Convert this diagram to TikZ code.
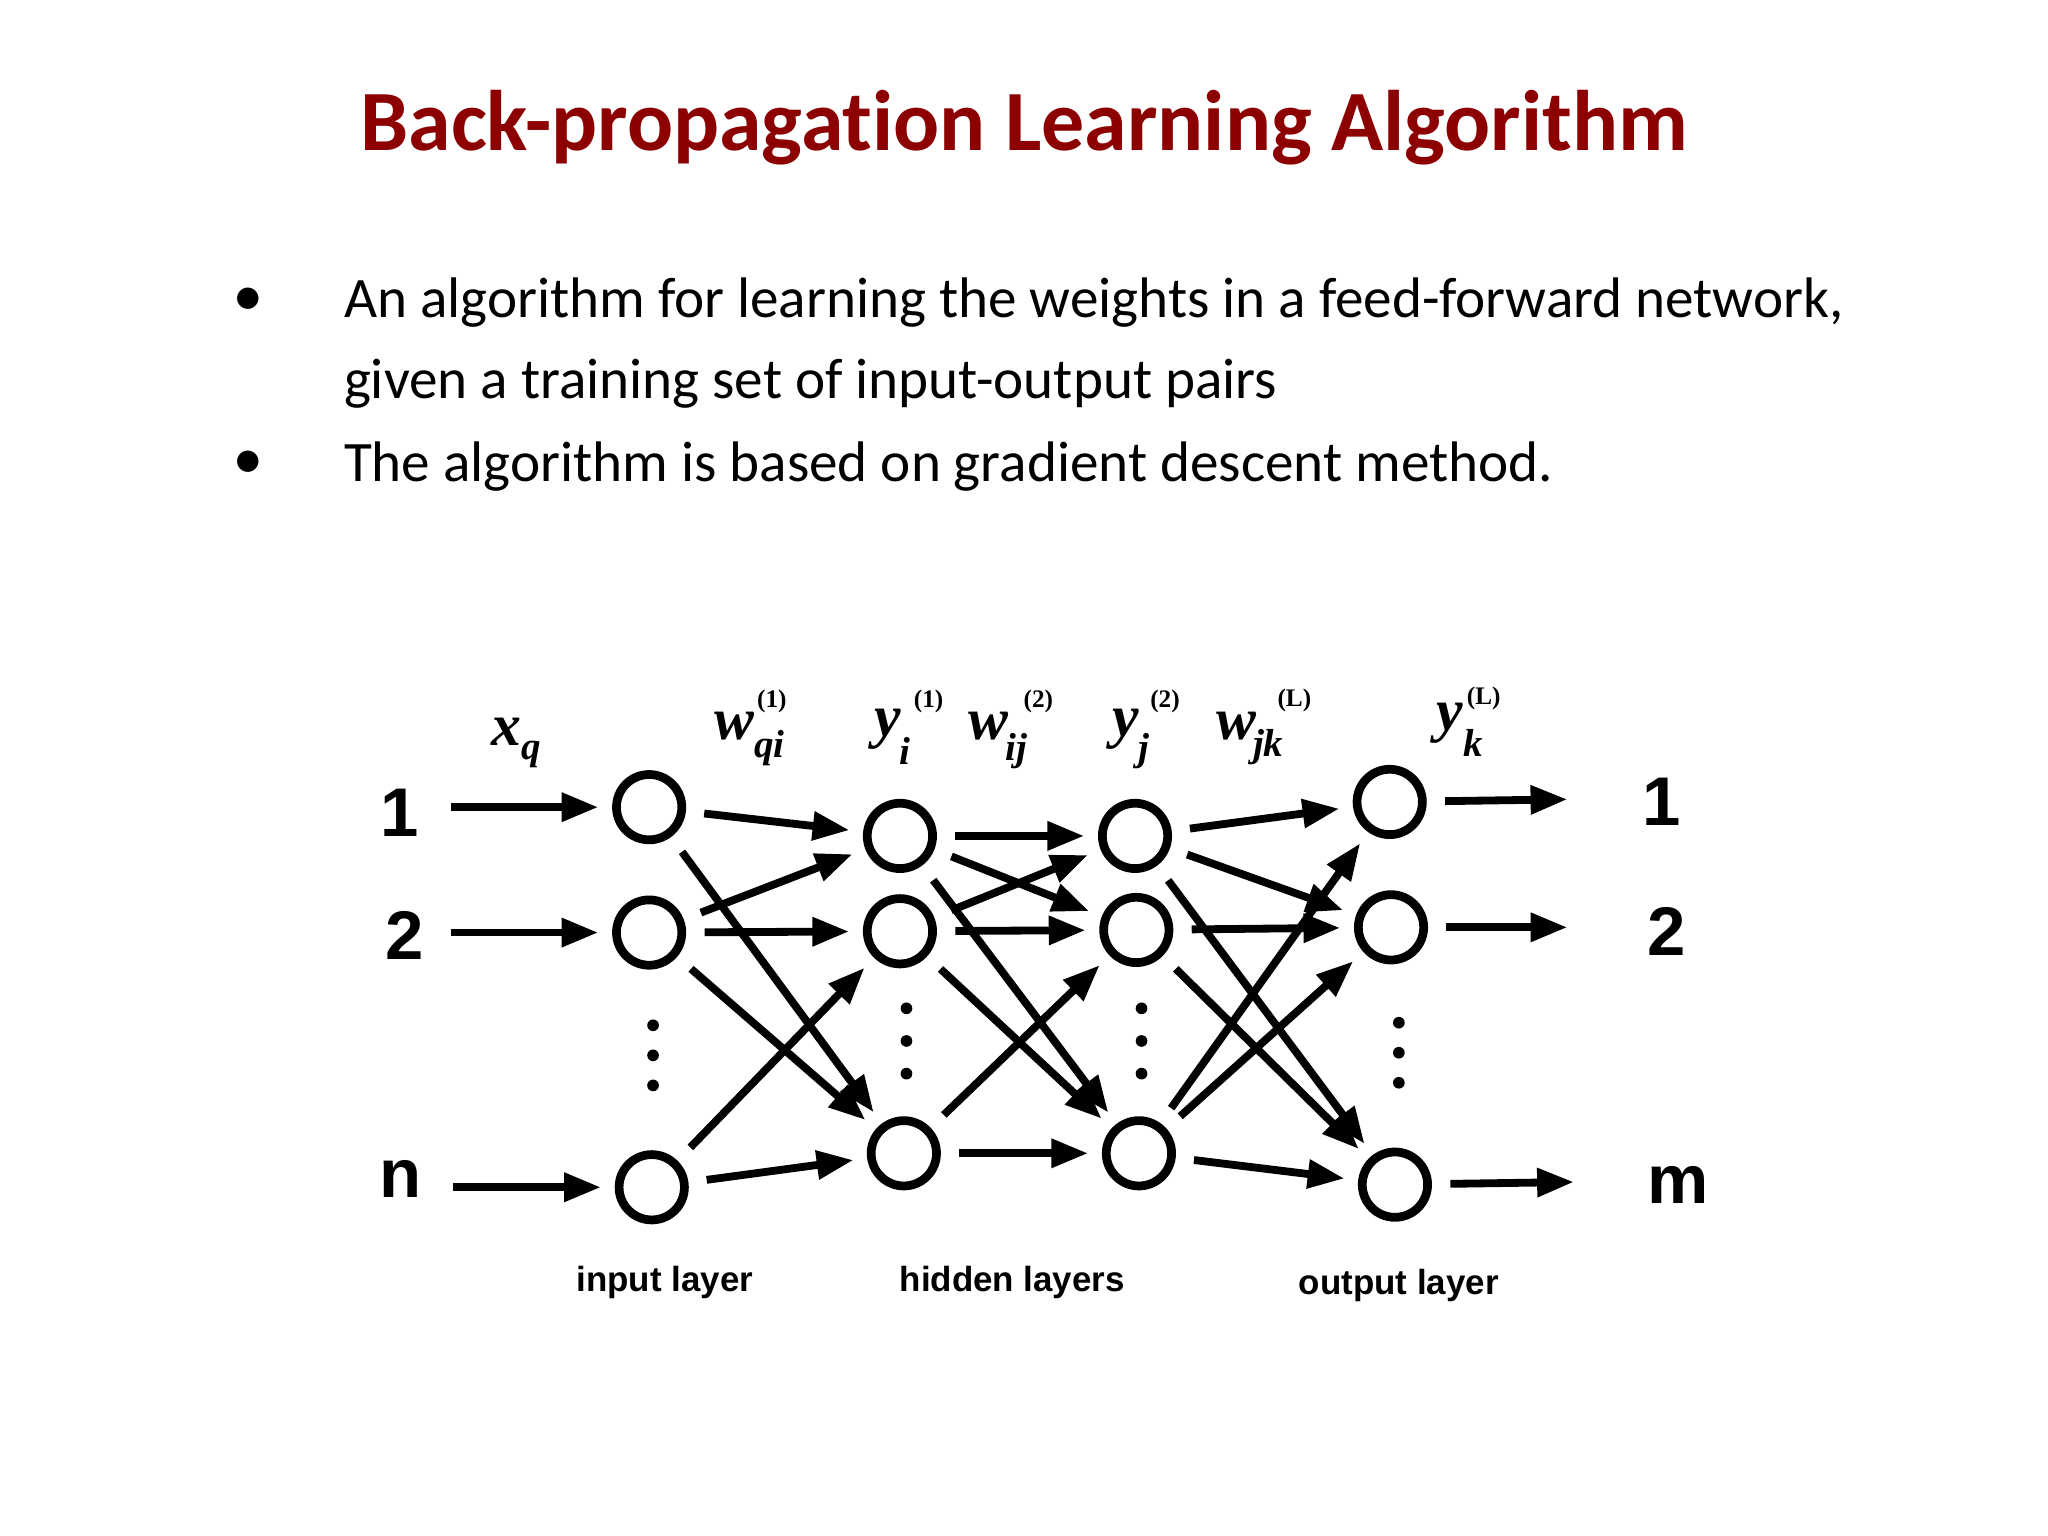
\documentclass[tikz,border=0pt]{standalone}
\usepackage{fontspec}
\setmainfont{Carlito}[Ligatures=NoCommon]
\newfontfamily\arl{Liberation Sans}
\newfontfamily\tms{Liberation Serif}
\usetikzlibrary{arrows.meta}
\begin{document}
\begin{tikzpicture}[x=0.01cm,y=-0.01cm,
  neu/.style={circle,draw,line width=1.9pt,minimum size=0.5cm,inner sep=0pt},
  cn/.style={line width=1.7pt,-{Triangle[length=8pt,width=6pt]},shorten <=4pt,shorten >=3pt},
  big/.style={font=\arl\bfseries\fontsize{15}{15}\selectfont},
  lay/.style={font=\arl\bfseries\fontsize{7.6}{8}\selectfont},
  ml/.style={font=\tms\bfseries\itshape\fontsize{13}{13}\selectfont},
  sb/.style={font=\tms\bfseries\itshape\fontsize{8.5}{9}\selectfont},
  sp/.style={font=\tms\bfseries\fontsize{5.5}{6}\selectfont},
  dt/.style={circle,fill,inner sep=0.9pt}]
\useasboundingbox[fill=white] (0,0) rectangle (1568,1176);
\node[font=\bfseries\fontsize{18.7}{19}\selectfont,text=red!55!black] (title) at (784,98) {Back-propagation Learning Algorithm};
\node[font=\fontsize{12}{12}\selectfont] (b1) at (190,230) {$\bullet$};
\node[font=\fontsize{12}{12}\selectfont] (b2) at (190,355) {$\bullet$};
\node[anchor=west,font=\fontsize{12.45}{12}\selectfont] (t1) at (251,232) {An algorithm for learning the weights in a feed-forward network,};
\node[anchor=west,font=\fontsize{12.45}{12}\selectfont] (t2) at (251,294) {given a training set of input-output pairs};
\node[anchor=west,font=\fontsize{12.45}{12}\selectfont] (t3) at (251,357) {The algorithm is based on gradient descent method.};
% nodes
\node[neu] (a1) at (497,618) {}; \node[neu] (a2) at (497,714) {}; \node[neu] (an) at (499,909) {};
\node[neu] (b1n) at (689,640) {}; \node[neu] (b2n) at (689,713) {}; \node[neu] (bn) at (692,883) {};
\node[neu] (c1) at (869,640) {}; \node[neu] (c2) at (870,712) {}; \node[neu] (cn) at (872,883) {};
\node[neu] (d1) at (1064,614) {}; \node[neu] (d2) at (1065,710) {}; \node[neu] (dm) at (1068,907) {};
% dots
\foreach \x/\y in {500/785,500/808,500/831, 694/772,694/797,694/822, 874/772,874/797,874/822, 1071/783,1071/806,1071/829}
  \node[dt] at (\x,\y) {};
% side labels and in/out arrows
\node[big] (l1) at (306,622) {1}; \node[big] (l2) at (310,716) {2}; \node[big] (ln) at (307,903) {n};
\node[big] (r1) at (1272,614) {1}; \node[big] (r2) at (1276,713) {2}; \node[big] (rm) at (1285,907) {m};
\coordinate (i1) at (345,618); \coordinate (i2) at (345,714); \coordinate (in) at (347,909);
\coordinate (o1) at (1200,612); \coordinate (o2) at (1200,710); \coordinate (om) at (1205,905);
\draw[cn,shorten <=0pt] (i1) -- (a1); \draw[cn,shorten <=0pt] (i2) -- (a2); \draw[cn,shorten <=0pt] (in) -- (an);
\draw[cn,shorten >=0pt] (d1) -- (o1); \draw[cn,shorten >=0pt] (d2) -- (o2); \draw[cn,shorten >=0pt] (dm) -- (om);
% connections
\draw[cn] (a1) -- (b1n); \draw[cn] (a1) -- (bn);
\draw[cn] (a2) -- (b1n); \draw[cn] (a2) -- (b2n); \draw[cn] (a2) -- (bn);
\draw[cn] (an) -- (b2n); \draw[cn] (an) -- (bn);
\draw[cn] (b1n) -- (c1); \draw[cn] (b1n) -- (c2); \draw[cn] (b1n) -- (cn);
\draw[cn] (b2n) -- (c1); \draw[cn] (b2n) -- (c2); \draw[cn] (b2n) -- (cn);
\draw[cn] (bn) -- (c2); \draw[cn] (bn) -- (cn);
\draw[cn] (c1) -- (d1); \draw[cn] (c1) -- (d2); \draw[cn] (c1) -- (dm);
\draw[cn] (c2) -- (d2); \draw[cn] (c2) -- (dm);
\draw[cn] (cn) -- (d1); \draw[cn] (cn) -- (d2); \draw[cn] (cn) -- (dm);
% math labels
\node[ml] (xq) at (388,560) {x}; \node[sb] at (407,578) {q};
\node[ml] (w1) at (562,556) {w}; \node[sb] at (589,573) {qi}; \node[sp] at (591,537) {(1)};
\node[ml] (y1) at (680,558) {y}; \node[sb] at (693,575) {i}; \node[sp] at (711,537) {(1)};
\node[ml] (w2) at (757,556) {w}; \node[sb] at (778,575) {ij}; \node[sp] at (795,537) {(2)};
\node[ml] (y2) at (862,558) {y}; \node[sb] at (876,575) {j}; \node[sp] at (892,537) {(2)};
\node[ml] (w3) at (947,556) {w}; \node[sb] at (971,572) {jk}; \node[sp] at (991,536) {(L)};
\node[ml] (y3) at (1110,554) {y}; \node[sb] at (1128,569) {k}; \node[sp] at (1136,535) {(L)};
\node[lay] (il) at (509,982) {input layer};
\node[lay] (hl) at (775,982) {hidden layers};
\node[lay] (ol) at (1071,984) {output layer};
\end{tikzpicture}
\end{document}
